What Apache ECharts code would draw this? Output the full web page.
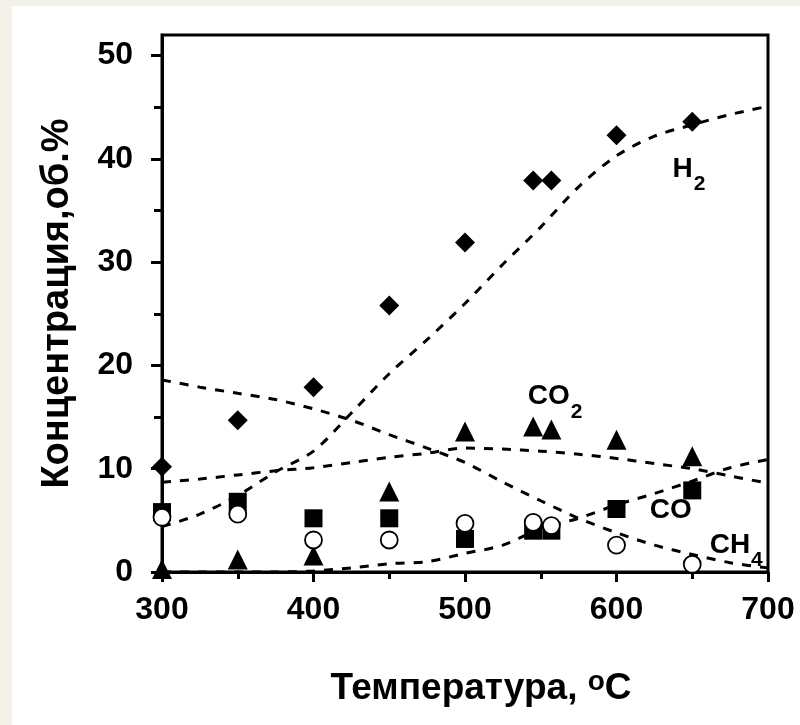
<!DOCTYPE html>
<html>
<head>
<meta charset="utf-8">
<script src="https://cdn.jsdelivr.net/npm/echarts@6/dist/echarts.min.js"></script>
<style>
  html, body { margin: 0; padding: 0; width: 800px; height: 725px; overflow: hidden; background: #f3f0e9; }
  #chart { position: absolute; left: 12px; top: 6px; width: 788px; height: 719px; background: #ffffff; }
</style>
</head>
<body>
<div id="chart"></div>
<script>
// Measured gas composition vs temperature
const temps = [300, 350, 400, 450, 500, 545, 557, 600, 650];
const h2  = [10.2, 14.7, 17.9, 25.8, 31.9, 37.9, 37.9, 42.3, 43.6];
const co2 = [0.3, 1.2, 1.6, 7.8, 13.6, 14.1, 13.8, 12.8, 11.2];
const co  = [5.8, 6.8, 5.2, 5.2, 3.2, 4.0, 4.0, 6.1, 7.9];
const ch4 = [5.3, 5.6, 3.1, 3.1, 4.7, 4.8, 4.5, 2.6, 0.75];

// Trend curves sampled along the temperature range
const trendT  = [300, 325, 350, 375, 400, 425, 450, 475, 500, 525, 550, 575, 600, 625, 650, 675, 700];
const h2Fit   = [4.4, 5.6, 7.4, 9.7, 11.7, 15.4, 19.2, 22.5, 26.0, 29.8, 33.4, 37.3, 40.3, 42.2, 43.3, 44.3, 45.1];
const co2Fit  = [8.7, 9.0, 9.4, 9.8, 10.1, 10.6, 11.1, 11.5, 12.0, 11.9, 11.7, 11.4, 11.0, 10.5, 10.0, 9.3, 8.6];
const coFit   = [0, 0, 0, 0, 0.1, 0.4, 0.8, 1.0, 1.8, 2.6, 4.2, 5.2, 6.5, 7.6, 8.8, 10.1, 10.9];
const ch4Fit  = [18.6, 17.9, 17.3, 16.7, 15.8, 14.7, 13.3, 12.0, 10.6, 8.7, 6.9, 5.2, 3.8, 2.6, 1.7, 0.9, 0.4];

// Axis ticks
const xTicks = [300, 400, 500, 600, 700];
const yTicks = [0, 10, 20, 30, 40, 50];
const yMinorTicks = [5, 15, 25, 35, 45];

// Curve labels: main text, subscript, anchor (left edge, baseline) in data units
const curveLabels = [
  { main: 'H',  sub: '2', x: 637, y: 38.0 },
  { main: 'CO', sub: '2', x: 541.5, y: 16.0 },
  { main: 'CO', sub: '',  x: 622, y: 5.0 },
  { main: 'CH', sub: '4', x: 661.5, y: 1.6 }
];

const FONT = '"Liberation Sans", Arial, Helvetica, sans-serif';
const pairs = (xs, ys) => xs.map((x, i) => [x, ys[i]]);

const chart = echarts.init(document.getElementById('chart'), null, { renderer: 'canvas' });

const dashStyle = { color: '#000', width: 3, type: [9, 9], opacity: 1 };
function trend(name, ys) {
  return {
    name, type: 'line', data: pairs(trendT, ys), smooth: 0.3,
    showSymbol: false, symbol: 'none', lineStyle: dashStyle, z: 2, silent: true
  };
}
function points(name, ys, symbol, size, fill, z) {
  return {
    name, type: 'scatter', data: pairs(temps, ys), symbol, symbolSize: size, clip: false,
    itemStyle: { color: fill, opacity: 1, borderColor: '#000', borderWidth: fill === '#fff' ? 1.8 : 0 }, z
  };
}

chart.setOption({
  animation: false,
  backgroundColor: 'transparent',
  grid: { left: 150, top: 29, right: 32, bottom: 153, show: true, borderColor: '#000', borderWidth: 3, backgroundColor: 'transparent' },
  xAxis: {
    type: 'value', min: xTicks[0], max: xTicks[xTicks.length - 1], interval: 100,
    name: '{t|Температура, }{s|o}{t|C}', nameLocation: 'middle', nameGap: 96,
    nameTextStyle: {
      padding: [0, 0, 0, 32],
      rich: {
        t: { fontFamily: FONT, fontWeight: 'bold', fontSize: 37, lineHeight: 42, color: '#000' },
        s: { fontFamily: FONT, fontWeight: 'bold', fontSize: 28, lineHeight: 28, color: '#000', verticalAlign: 'top' }
      }
    },
    axisLine: { lineStyle: { color: '#000', width: 3 } },
    axisTick: { length: 10, lineStyle: { color: '#000', width: 3 } },
    minorTick: { show: true, splitNumber: 2, length: 7, lineStyle: { color: '#000', width: 3 } },
    splitLine: { show: false },
    axisLabel: { color: '#000', fontFamily: FONT, fontWeight: 'bold', fontSize: 32, margin: 22 }
  },
  yAxis: [{
    type: 'value', min: 0, max: 52, position: 'left',
    name: 'Концентрация,об.%', nameLocation: 'middle', nameGap: 77, nameRotate: 90,
    nameTextStyle: { color: '#000', fontFamily: FONT, fontWeight: 'bold', fontSize: 38, padding: [0, 0, 8, 0] },
    axisLine: { lineStyle: { color: '#000', width: 3 } },
    axisTick: { length: 11, customValues: yTicks, lineStyle: { color: '#000', width: 3 } },
    splitLine: { show: false },
    axisLabel: { customValues: yTicks, color: '#000', fontFamily: FONT, fontWeight: 'bold', fontSize: 32, margin: 29 }
  }, {
    type: 'value', min: 0, max: 52, position: 'left',
    axisLine: { show: false },
    axisTick: { length: 8, customValues: yMinorTicks, lineStyle: { color: '#000', width: 3 } },
    splitLine: { show: false },
    axisLabel: { show: false }
  }],
  series: [
    trend('H2 fit', h2Fit),
    trend('CO2 fit', co2Fit),
    trend('CO fit', coFit),
    trend('CH4 fit', ch4Fit),
    points('H2', h2, 'diamond', 20, '#000', 3),
    points('CO2', co2, 'triangle', 20, '#000', 4),
    points('CO', co, 'rect', 18, '#000', 5),
    points('CH4', ch4, 'circle', 17, '#fff', 6)
  ]
});

// Curve labels with subscripts, anchored in data coordinates
const mainFont = 'bold 28px ' + FONT;
const subFont = 'bold 21px ' + FONT;
const ctx = document.createElement('canvas').getContext('2d');
ctx.font = mainFont;
const graphics = [];
curveLabels.forEach(l => {
  const p = chart.convertToPixel({ gridIndex: 0 }, [l.x, l.y]);
  const w = ctx.measureText(l.main).width;
  graphics.push({
    type: 'text', x: p[0], y: p[1] - 10, z: 20,
    style: { text: l.main, font: mainFont, fill: '#000', align: 'left', verticalAlign: 'middle' }
  });
  if (l.sub) {
    graphics.push({
      type: 'text', x: p[0] + w + 1, y: p[1] + 5, z: 20,
      style: { text: l.sub, font: subFont, fill: '#000', align: 'left', verticalAlign: 'middle' }
    });
  }
});
chart.setOption({ graphic: graphics });
</script>
</body>
</html>
